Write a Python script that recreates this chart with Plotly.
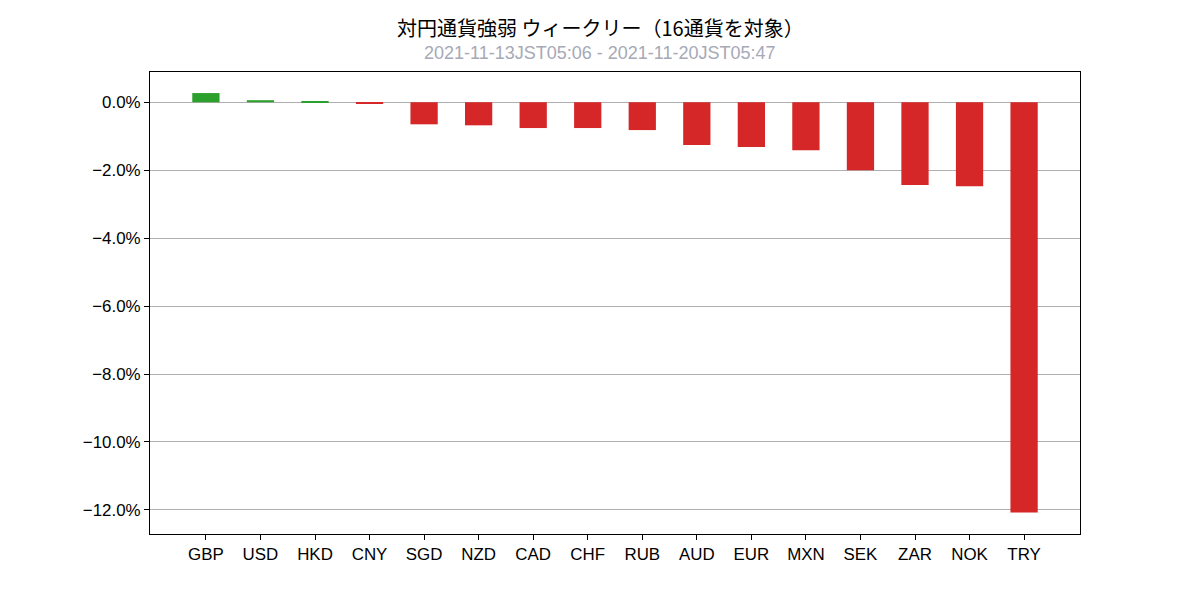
import plotly.graph_objects as go

currencies = ["GBP", "USD", "HKD", "CNY", "SGD", "NZD", "CAD", "CHF", "RUB",
              "AUD", "EUR", "MXN", "SEK", "ZAR", "NOK", "TRY"]
changes = [0.27, 0.06, 0.03, -0.05, -0.65, -0.68, -0.76, -0.76, -0.82,
           -1.26, -1.32, -1.41, -2.00, -2.44, -2.47, -12.08]
ytick_vals = [0, -2, -4, -6, -8, -10, -12]
ytick_text = ["0.0%", "−2.0%", "−4.0%", "−6.0%", "−8.0%", "−10.0%", "−12.0%"]
title = "対円通貨強弱 ウィークリー（16通貨を対象）"
subtitle = "2021-11-13JST05:06 - 2021-11-20JST05:47"

colors = ["#2ca02c" if v >= 0 else "#d62728" for v in changes]
xidx = list(range(len(currencies)))

fig = go.Figure(go.Bar(x=xidx, y=changes, marker=dict(color=colors, line=dict(width=0)),
                       width=0.5))

# page has 8px body margin; figure 1184x584 placed at (8,8)
L, R, T, B = 142, 112, 64, 58
W, H = 1184, 584
plot_h = H - T - B
plot_w = W - L - R


def page_y_to_paper(py):
    return (H + 8 - B - py) / plot_h


def page_x_to_paper(px):
    return (px - 8 - L) / plot_w


fig.update_layout(
    width=W, height=H,
    paper_bgcolor="white", plot_bgcolor="white",
    margin=dict(l=L, r=R, t=T, b=B),
    font=dict(family="Liberation Sans, Arial, DejaVu Sans", size=16.9, color="black"),
    showlegend=False,
    annotations=[
        dict(text=title, x=page_x_to_paper(600), y=page_y_to_paper(27), xref="paper", yref="paper",
             showarrow=False, yanchor="middle", xanchor="center",
             font=dict(family="Noto Sans CJK JP, Noto Sans", size=20, color="black")),
        dict(text=subtitle, x=page_x_to_paper(600), y=page_y_to_paper(53), xref="paper", yref="paper",
             showarrow=False, yanchor="middle", xanchor="center",
             font=dict(family="Liberation Sans, Arial", size=18, color="#a6a9b6")),
    ],
)

fig.update_xaxes(
    range=[-1.025, 16.025], tickvals=xidx, ticktext=currencies,
    showgrid=False, zeroline=False, showline=True, linecolor="black", linewidth=1,
    mirror=True, ticks="outside", ticklen=5, tickcolor="black",
)
fig.update_yaxes(
    range=[-12.71, 0.89], tickvals=ytick_vals, ticktext=ytick_text,
    showgrid=True, gridcolor="#b0b0b0", gridwidth=1, zeroline=False,
    showline=True, linecolor="black", linewidth=1, mirror=True,
    ticks="outside", ticklen=5, tickcolor="black",
)

fig.write_html("out.html")
